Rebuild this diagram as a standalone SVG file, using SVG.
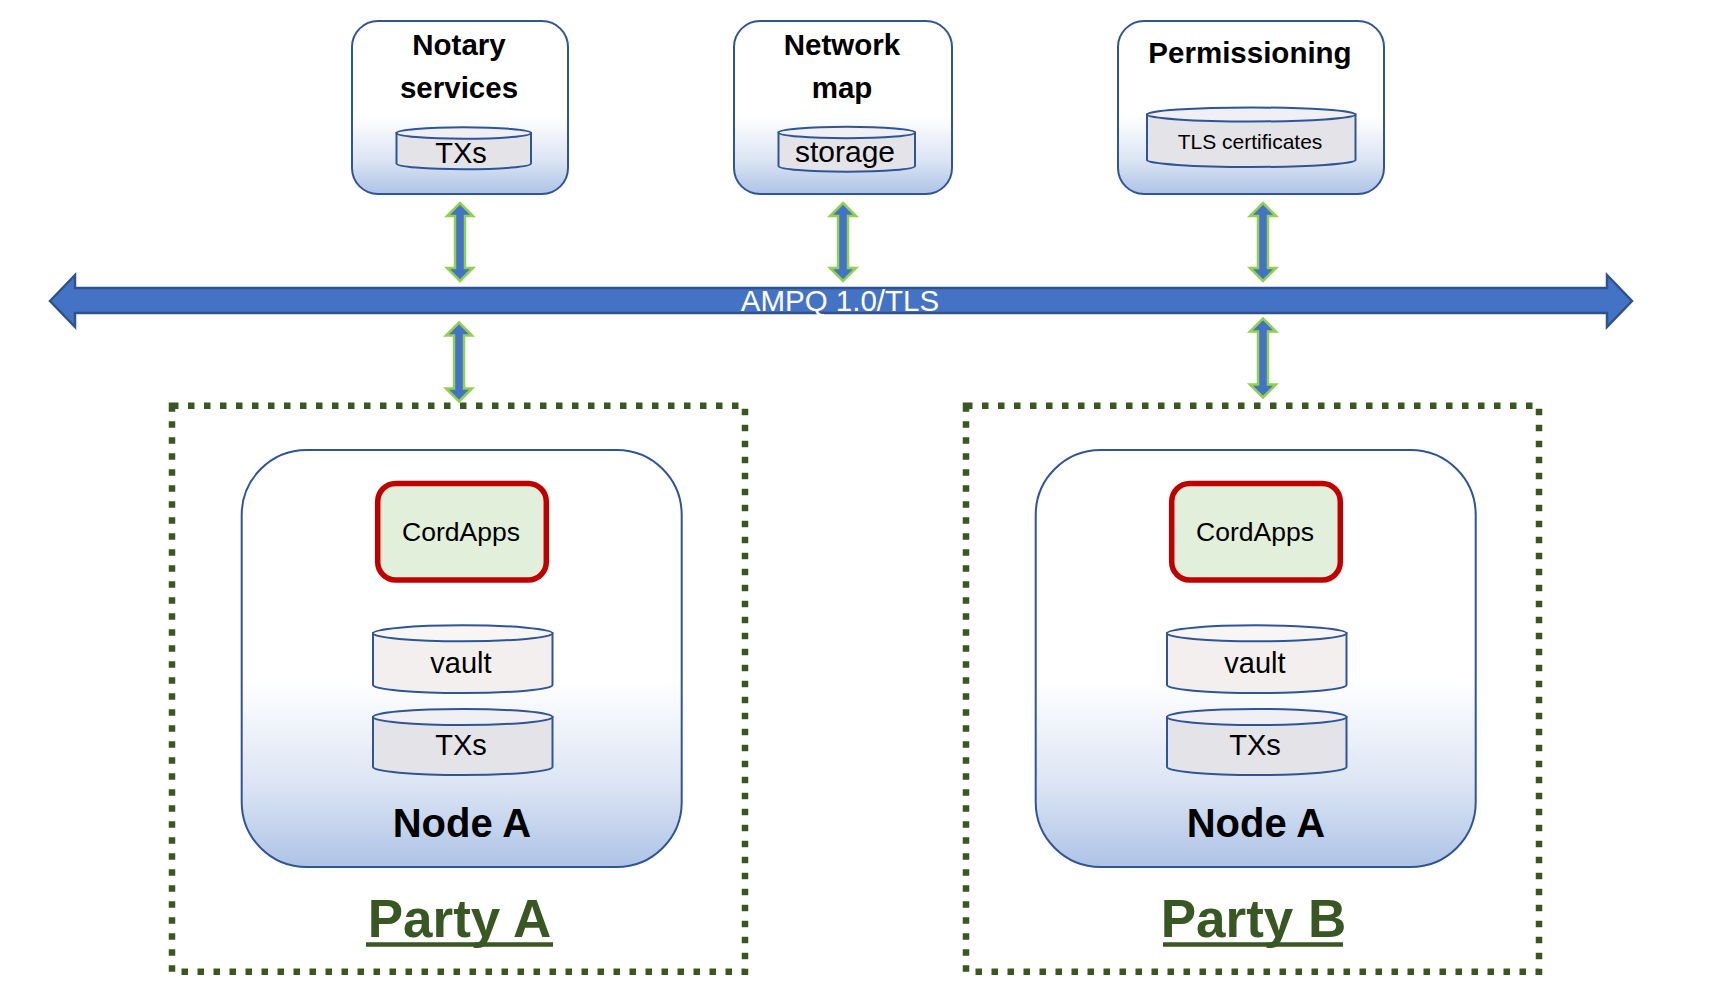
<svg xmlns="http://www.w3.org/2000/svg" width="1710" height="984" viewBox="0 0 1710 984">
<defs>
<linearGradient id="gBox" x1="0" y1="0" x2="0" y2="1">
<stop offset="0" stop-color="#FFFFFF"/>
<stop offset="0.55" stop-color="#FFFFFF"/>
<stop offset="0.8" stop-color="#DCE5F4"/>
<stop offset="1" stop-color="#AEC3E6"/>
</linearGradient>
<style>
.box{fill:url(#gBox);stroke:#2F5597;stroke-width:2}
.frame{fill:none;stroke:#385723;stroke-width:6.5;stroke-dasharray:6.5 9.5}
.app{fill:#E2EFDA;stroke:#C00000;stroke-width:5.5}
.cyl{stroke:#2F5597;stroke-width:2}
.bodyA{fill:#F2EFEE}.topA{fill:#F8F6F5}
.bodyB{fill:#E4E3E8}.topB{fill:#F0EFF3}
.bus{fill:#4472C4;stroke:#2F528F;stroke-width:2.5}
.dbl{fill:#4472C4;stroke:#92D050;stroke-width:2.5}
text{font-family:"Liberation Sans",Arial,sans-serif;text-anchor:middle}
.title{font-weight:bold;font-size:29.5px;fill:#000}
.lbl{font-size:29px;fill:#000}
.node{font-weight:bold;font-size:40px;fill:#000}
.party{font-weight:bold;font-size:53px;fill:#385723}
.ul{stroke:#385723;stroke-width:4.5}
</style>
</defs>

<g id="notary">
<rect class="box" x="352" y="21" width="216" height="173" rx="26"/>
<text class="title" x="459" y="55">Notary</text>
<text class="title" x="459" y="98">services</text>
<path class="cyl bodyB" d="M396.5,133 V163.5 A67.25,5.8 0 0 0 531,163.5 V133 Z"/>
<ellipse class="cyl topB" cx="463.75" cy="133" rx="67.25" ry="5.8"/>
<text class="lbl" x="461" y="163">TXs</text>
</g>

<g id="network-map">
<rect class="box" x="734" y="21" width="218" height="173" rx="26"/>
<text class="title" x="842" y="55">Network</text>
<text class="title" x="842" y="98">map</text>
<path class="cyl bodyB" d="M778.5,132.5 V166 A68.25,5.8 0 0 0 915,166 V132.5 Z"/>
<ellipse class="cyl topB" cx="846.75" cy="132.5" rx="68.25" ry="5.8"/>
<text class="lbl" x="845" y="162" style="font-size:30px">storage</text>
</g>

<g id="permissioning">
<rect class="box" x="1118" y="21" width="266" height="173" rx="26"/>
<text class="title" x="1250" y="63">Permissioning</text>
<path class="cyl bodyB" d="M1147,114.5 V160 A104.25,7 0 0 0 1355.5,160 V114.5 Z"/>
<ellipse class="cyl topB" cx="1251.25" cy="114.5" rx="104.25" ry="7"/>
<text class="lbl" x="1250" y="148.5" style="font-size:21px">TLS certificates</text>
</g>

<g id="ampq-bus">
<path class="bus" d="M50,301 L75,275 L75,288 L1607,288 L1607,275 L1632,301 L1607,327 L1607,313 L75,313 L75,327 Z"/>
<text x="840" y="310.7" style="font-size:29.5px;fill:#FFFFFF">AMPQ 1.0/TLS</text>
</g>

<g id="party-a">
<rect class="frame" x="172" y="405.7" width="573" height="566"/>
<rect class="box" x="241.7" y="450" width="440" height="417" rx="65"/>
<rect class="app" x="377.7" y="483.5" width="168.6" height="96.5" rx="18"/>
<text x="461" y="541" style="font-size:26.5px;fill:#000">CordApps</text>
<path class="cyl bodyA" d="M373,633.3 V685 A89.75,8 0 0 0 552.5,685 V633.3 Z"/>
<ellipse class="cyl topA" cx="462.75" cy="633.3" rx="89.75" ry="8"/>
<text class="lbl" x="461" y="673">vault</text>
<path class="cyl bodyB" d="M373,717 V767 A89.75,8 0 0 0 552.5,767 V717 Z"/>
<ellipse class="cyl topB" cx="462.75" cy="717" rx="89.75" ry="8"/>
<text class="lbl" x="461" y="755">TXs</text>
<text class="node" x="462" y="837">Node A</text>
<text class="party" x="459.5" y="936.7">Party A</text>
<line class="ul" x1="366" y1="944.5" x2="553" y2="944.5"/>
</g>

<g id="party-b">
<rect class="frame" x="966" y="405.7" width="573" height="566"/>
<rect class="box" x="1035.7" y="450" width="440" height="417" rx="65"/>
<rect class="app" x="1171.7" y="483.5" width="168.6" height="96.5" rx="18"/>
<text x="1255" y="541" style="font-size:26.5px;fill:#000">CordApps</text>
<path class="cyl bodyA" d="M1167,633.3 V685 A89.75,8 0 0 0 1346.5,685 V633.3 Z"/>
<ellipse class="cyl topA" cx="1256.75" cy="633.3" rx="89.75" ry="8"/>
<text class="lbl" x="1255" y="673">vault</text>
<path class="cyl bodyB" d="M1167,717 V767 A89.75,8 0 0 0 1346.5,767 V717 Z"/>
<ellipse class="cyl topB" cx="1256.75" cy="717" rx="89.75" ry="8"/>
<text class="lbl" x="1255" y="755">TXs</text>
<text class="node" x="1256" y="837">Node A</text>
<text class="party" x="1253.5" y="936.7">Party B</text>
<line class="ul" x1="1163" y1="944.5" x2="1343" y2="944.5"/>
</g>

<g id="connectors">
<path class="dbl" d="M460,203 L473,216 L465,216 L465,268 L473,268 L460,281 L447,268 L455,268 L455,216 L447,216 Z"/>
<path class="dbl" d="M843,203 L856,216 L848,216 L848,268 L856,268 L843,281 L830,268 L838,268 L838,216 L830,216 Z"/>
<path class="dbl" d="M1263,203 L1276,216 L1268,216 L1268,268 L1276,268 L1263,281 L1250,268 L1258,268 L1258,216 L1250,216 Z"/>
<path class="dbl" d="M459,322.5 L472,335.5 L464,335.5 L464,388.5 L472,388.5 L459,401.5 L446,388.5 L454,388.5 L454,335.5 L446,335.5 Z"/>
<path class="dbl" d="M1263,318.5 L1276,331.5 L1268,331.5 L1268,384.5 L1276,384.5 L1263,397.5 L1250,384.5 L1258,384.5 L1258,331.5 L1250,331.5 Z"/>
</g>
</svg>
